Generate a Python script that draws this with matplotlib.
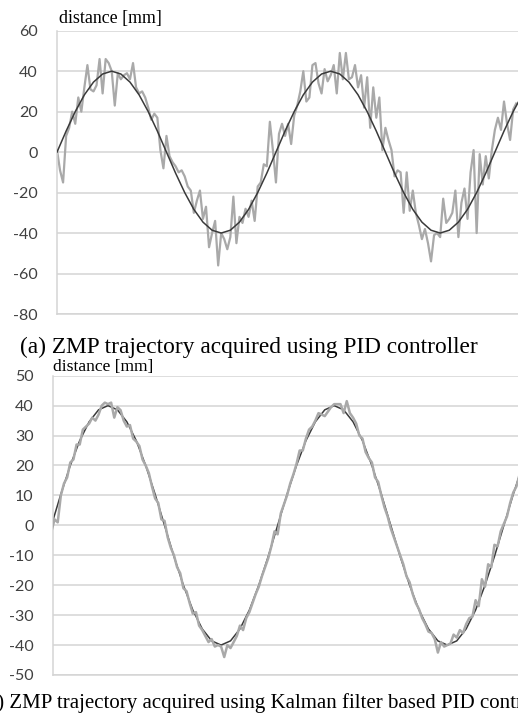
import numpy as np
import matplotlib
matplotlib.use("Agg")
import matplotlib.pyplot as plt

# ---------------- data ----------------
# reference (desired) ZMP trajectory, sampled every 3 time steps
ref_t = np.arange(0, 154, 3)
ref_vals = [0, 10.4, 20, 28.3, 34.6, 38.6, 40, 38.6, 34.6, 28.3, 20, 10.4,
            0, -10.4, -20, -28.3, -34.6, -38.6, -40, -38.6, -34.6, -28.3, -20, -10.4,
            0, 10.4, 20, 28.3, 34.6, 38.6, 40, 38.6, 34.6, 28.3, 20, 10.4,
            0, -10.4, -20, -28.3, -34.6, -38.6, -40, -38.6, -34.6, -28.3, -20, -10.4,
            0, 10.4, 20, 28.3]

# (a) measured ZMP with PID controller (one value per time step)
pid_t = np.arange(0, 152)
pid_vals = [1, -9, -15, 8, 12, 20, 14, 27, 20, 32,
            43, 31, 30, 33, 46, 29, 46, 44, 40, 23,
            39, 36, 38, 39, 36, 44, 32, 29, 30, 27,
            22, 16, 19, 17, 1, -8, 8, -2, -5, -7,
            -10, -9, -12, -17, -19, -30, -24, -19, -33, -27,
            -47, -40, -34, -56, -40, -43, -48, -42, -22, -45,
            -32, -35, -28, -32, -24, -34, -17, -15, -6, -7,
            15, 1, -15, 9, 14, 8, 14, 4, 18, 23,
            30, 40, 25, 27, 43, 44, 34, 29, 41, 35,
            38, 43, 29, 49, 36, 49, 36, 37, 43, 32,
            38, 22, 37, 12, 32, 17, 27, 1, 12, 6,
            1, -12, -9, -10, -30, -10, -29, -19, -30, -36,
            -43, -38, -45, -54, -41, -40, -42, -23, -35, -33,
            -30, -19, -42, -25, -18, -33, -10, 1, -40, -1,
            -16, -2, -13, 1, 11, 17, 11, 25, 14, 6,
            21, 24]

# (b) measured ZMP with Kalman filter based PID controller
kal_t = np.arange(0, 151)
kal_vals = [-2, 2, 1, 10, 14, 16, 21, 22, 27, 27,
            32, 33, 34, 36, 35, 37, 40, 41, 40.5, 41,
            36, 39.5, 38.5, 35, 33, 33.5, 29, 28, 26.5, 22,
            20, 17.5, 13, 9, 7.5, 2, 1.5, -4, -7.5, -10,
            -14, -16, -21, -22, -26, -29.5, -29, -33.5, -35, -37,
            -39, -38, -40.5, -40, -40.5, -44, -40, -41, -39, -37,
            -33.5, -35, -31, -29, -26, -23, -20.5, -17, -14, -11,
            -7, -2, -3, 4, 7, 10, 14, 17, 20.5, 25,
            25, 29, 32, 33, 35, 37.5, 37, 36.5, 38, 39.5,
            40.5, 40.5, 40.5, 37.5, 41.5, 37.5, 36, 34, 30, 29,
            24.5, 22.5, 21, 16, 14.5, 10, 6, 3, -1, -4,
            -7, -10, -13, -17, -19, -23, -26, -28, -31, -33,
            -35.5, -36, -38, -42.5, -39, -40.5, -40, -39.5, -36.5, -37.5,
            -35, -36, -33, -31, -30.5, -25, -27, -18, -20.5, -13,
            -14, -6.5, -7, -2, 0.5, 3, 7.5, 11, 13, 17,
            21]

yticks_a = [-80, -60, -40, -20, 0, 20, 40, 60]
yticks_b = [-50, -40, -30, -20, -10, 0, 10, 20, 30, 40, 50]
ylabel = "distance [mm]"
caption_a = "(a) ZMP trajectory acquired using PID controller"
caption_b = "(b) ZMP trajectory acquired using Kalman filter based PID controller"

# ---------------- style ----------------
W, H = 518, 715
fig = plt.figure(figsize=(W / 100, H / 100), dpi=100)

grid_c = "#d4d4d4"
tick_c = "#404040"
noisy_c = "#a9a9a9"
ref_c = "#3a3a3a"
tick_font = "Lato"
serif = "Liberation Serif"


def style_axes(ax, yticks):
    ax.set_ylim(yticks[0], yticks[-1])
    ax.set_yticks(yticks)
    ax.set_yticklabels([str(v) for v in yticks], fontsize=11.5,
                       fontfamily=tick_font, color=tick_c)
    ax.tick_params(axis="y", length=0, pad=14)
    ax.set_xticks([])
    ax.grid(axis="y", color=grid_c, linewidth=1.1)
    ax.set_axisbelow(True)
    for s in ["top", "right"]:
        ax.spines[s].set_visible(False)
    for s in ["left", "bottom"]:
        ax.spines[s].set_color(grid_c)
        ax.spines[s].set_linewidth(1.1)


# top panel (a)
axA = fig.add_axes([57 / W, 1 - 314 / H, 1 - 57 / W, (314 - 30.7) / H])
axA.plot(pid_t, pid_vals, color=noisy_c, linewidth=1.6, zorder=2)
axA.plot(ref_t, ref_vals, color=ref_c, linewidth=1.1, zorder=3)
axA.set_xlim(0, 151.6)
style_axes(axA, yticks_a)
axA.text(0.004, 1.012, ylabel, transform=axA.transAxes, fontsize=12.9,
         fontfamily=serif, ha="left", va="bottom", color="black")

# bottom panel (b)
axB = fig.add_axes([53 / W, 1 - 675 / H, 1 - 53 / W, (675 - 375.7) / H])
axB.plot(ref_t, ref_vals, color=ref_c, linewidth=1.1, zorder=2)
axB.plot(kal_t, kal_vals, color=noisy_c, linewidth=1.8, zorder=3)
axB.set_xlim(0.5, 148.5)
style_axes(axB, yticks_b)
axB.text(0.0, 1.004, ylabel, transform=axB.transAxes, fontsize=12.6,
         fontfamily=serif, ha="left", va="bottom", color="black")

# captions
fig.text(20 / W, 1 - 353 / H, caption_a, fontsize=16.8, fontfamily=serif,
         ha="left", va="baseline", color="black")
fig.text(-20 / W, 1 - 708 / H, caption_b, fontsize=15, fontfamily=serif,
         ha="left", va="baseline", color="black")

fig.savefig("out.png", dpi=100)
